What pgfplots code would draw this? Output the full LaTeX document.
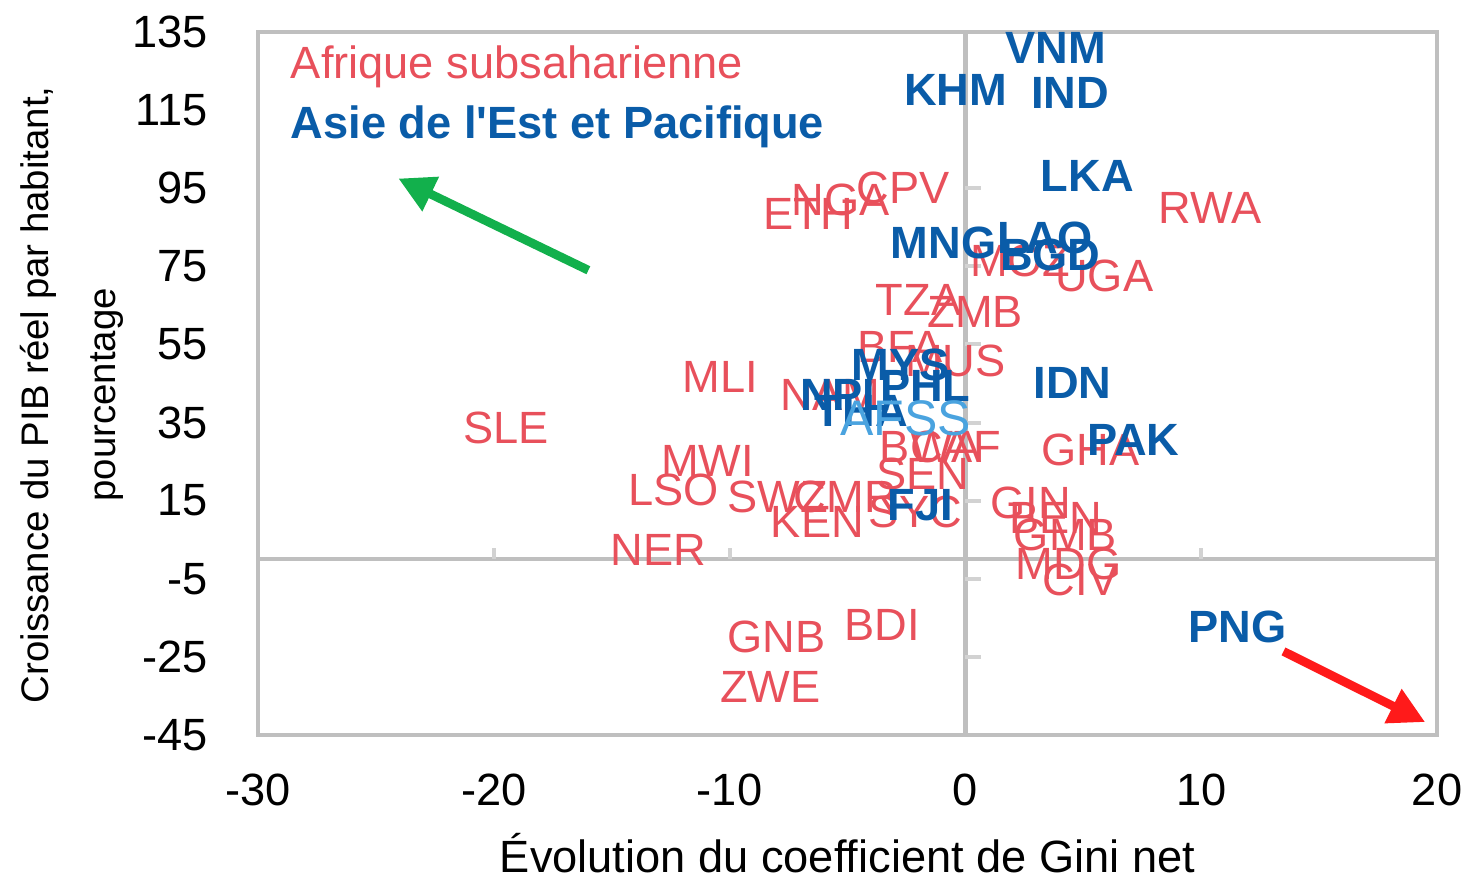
\documentclass[border=0pt]{standalone}
\usepackage{fontspec}
\setmainfont{Liberation Sans}
\usepackage{pgfplots}
\usepackage{pgfplotstable}
\pgfplotsset{compat=1.18}
\usetikzlibrary{arrows.meta}
\definecolor{ssa}{HTML}{E8505B}
\definecolor{eap}{HTML}{0A5CA8}
\definecolor{lb}{HTML}{4AA3DF}
\definecolor{frame}{HTML}{BFBFBF}
\definecolor{arrgreen}{HTML}{12B04C}
\definecolor{arrred}{HTML}{FF1A1A}

\pgfplotstableread{
x y label
-19.47 33.5 SLE
-10.39 46.6 MLI
-10.94 25.1 MWI
-12.38 17.7 LSO
-13.02 2.3 NER
-7.97 15.9 SWZ
-5.09 15.9 CMR
-6.28 9.5 KEN
-2.12 12.0 SYC
-8.02 -20.0 GNB
-3.52 -16.9 BDI
-8.27 -32.8 ZWE
-6.66 88.3 ETH
-5.30 91.9 NGA
-2.63 95.0 CPV
-1.99 66.3 TZA
0.42 63.2 ZMB
10.39 89.9 RWA
5.89 72.5 UGA
2.33 76.5 MOZ
-2.76 54.3 BFA
-0.42 50.9 MUS
-5.73 42.0 NAM
-1.48 28.7 BWA
-0.42 28.7 CAF
-1.82 21.8 SEN
5.30 27.9 GHA
2.76 14.3 GIN
3.82 10.5 BEN
4.24 6.1 GMB
4.37 -1.3 MDG
4.88 -5.4 CIV
}\ssadata

\pgfplotstableread{
x y label
3.82 130.8 VNM
-0.42 120.1 KHM
4.45 119.3 IND
5.17 98.1 LKA
-0.93 80.9 MNG
3.39 82.2 LAO
3.60 77.8 BGD
-2.76 49.7 MYS
-1.70 44.5 PHL
-5.09 42.0 NPL
-4.41 38.1 THA
4.54 45.1 IDN
7.12 30.5 PAK
-1.91 13.8 FJI
11.54 -17.4 PNG
}\eapdata

\pgfplotstableread{
x y label
-2.54 36.1 AFSS
}\avgdata

\begin{document}
\begin{tikzpicture}[font=\fontsize{11.3}{13.5}\selectfont]
\useasboundingbox (-64.5pt,-35.75pt) rectangle (301.5pt,183.75pt);
\begin{axis}[
  scale only axis, width=294.75pt, height=175.75pt,
  xmin=-30, xmax=20, ymin=-45, ymax=135,
  xtick={-30,-20,...,20}, ytick={-45,-25,...,135},
  major tick length=0pt,
  axis line style={draw=frame, line width=1.1pt},
  tick label style={font=\fontsize{11.3}{13.5}\selectfont},
  /pgf/number format/assume math mode=true,
  xticklabel style={anchor=center, yshift=-13.75pt},
  yticklabel style={anchor=east, xshift=-9pt},
  clip=false,
]
\draw[frame, line width=1.1pt] (axis cs:0,-45) -- (axis cs:0,135);
\draw[frame, line width=1.1pt] (axis cs:-30,0) -- (axis cs:20,0);
\draw[frame!70, line width=1pt] (axis cs:0,95) -- (axis cs:0.68,95);
\draw[frame!70, line width=1pt] (axis cs:0,75) -- (axis cs:0.68,75);
\draw[frame!70, line width=1pt] (axis cs:0,55) -- (axis cs:0.68,55);
\draw[frame!70, line width=1pt] (axis cs:0,35) -- (axis cs:0.68,35);
\draw[frame!70, line width=1pt] (axis cs:0,15) -- (axis cs:0.68,15);
\draw[frame!70, line width=1pt] (axis cs:0,-5) -- (axis cs:0.68,-5);
\draw[frame!70, line width=1pt] (axis cs:0,-25) -- (axis cs:0.68,-25);
\draw[frame!70, line width=1pt] (axis cs:-20,0) -- (axis cs:-20,3);
\draw[frame!70, line width=1pt] (axis cs:-10,0) -- (axis cs:-10,3);
\draw[frame!70, line width=1pt] (axis cs:10,0) -- (axis cs:10,3);

\addplot[only marks, mark=none,
  nodes near coords, point meta=explicit symbolic,
  every node near coord/.append style={anchor=center, inner sep=0pt, text=ssa, font=\fontsize{11.3}{13.5}\selectfont}]
  table[x=x, y=y, meta=label] {\ssadata};
\addplot[only marks, mark=none,
  nodes near coords, point meta=explicit symbolic,
  every node near coord/.append style={anchor=center, inner sep=0pt, text=eap, font=\fontsize{11.3}{13.5}\selectfont\bfseries}]
  table[x=x, y=y, meta=label] {\eapdata};
\addplot[only marks, mark=none,
  nodes near coords, point meta=explicit symbolic,
  every node near coord/.append style={anchor=center, inner sep=0pt, text=lb, font=\fontsize{12.5}{14}\selectfont}]
  table[x=x, y=y, meta=label] {\avgdata};

\draw[arrgreen, line width=2.2pt, -{Triangle[length=9pt,width=9pt]}] (axis cs:-15.99,74.0) -- (axis cs:-24.05,97.5);
\draw[arrred, line width=2.2pt, -{Triangle[length=9pt,width=9pt]}] (axis cs:13.49,-23.6) -- (axis cs:19.5,-41.7);

\node[anchor=west, text=ssa, inner sep=0pt] at (axis cs:-28.64,126.2) {Afrique subsaharienne};
\node[anchor=west, text=eap, inner sep=0pt, font=\fontsize{11.3}{13.5}\selectfont\bfseries] at (axis cs:-28.64,110.8) {Asie de l\textquotesingle Est et Pacifique};

\node[anchor=center, yshift=-29.5pt] at (rel axis cs:0.5,0) {Évolution du coefficient de Gini net};
\node[anchor=center, xshift=-46.6pt, rotate=90, align=center, font=\fontsize{9.6}{16.75}\selectfont] at (rel axis cs:0,0.484) {Croissance du PIB réel par habitant,\\pourcentage};
\end{axis}
\end{tikzpicture}
\end{document}
